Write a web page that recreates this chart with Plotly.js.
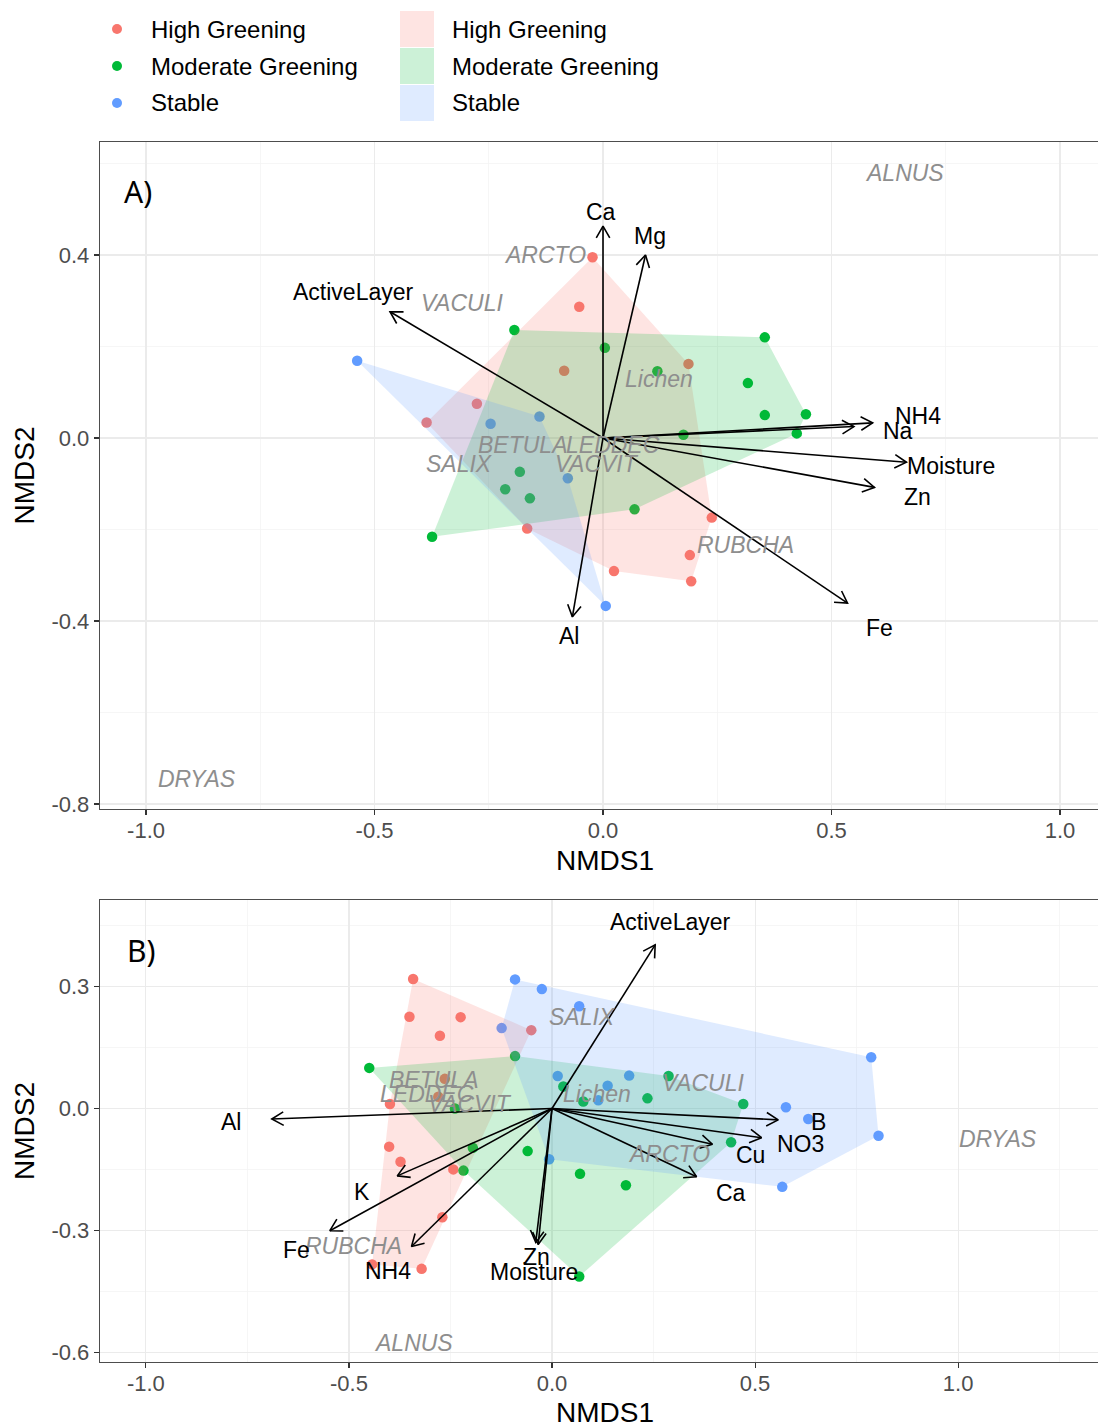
<!DOCTYPE html>
<html>
<head>
<meta charset="utf-8">
<script src="https://cdn.plot.ly/plotly-3.0.1.min.js"></script>
<style>html,body{margin:0;padding:0;overflow:hidden;background:#fff}</style>
</head>
<body>
<div id="chart"></div>
<script>
// Groups and ggplot-style hue palette
const groups = ['High Greening', 'Moderate Greening', 'Stable'];
const groupColors = ['#F8766D', '#00BA38', '#619CFF'];
const groupFills = ['rgba(248,118,109,0.2)', 'rgba(0,186,56,0.2)', 'rgba(97,156,255,0.2)'];

// ---- Panel A: site scores ----
const aHighX = [-0.023, -0.052, -0.085, 0.187, -0.276, -0.386, 0.238, -0.166, 0.190, 0.024, 0.193];
const aHighY = [0.395, 0.287, 0.147, 0.162, 0.075, 0.034, -0.174, -0.198, -0.256, -0.291, -0.313];
const aModX = [-0.194, 0.004, 0.119, 0.354, 0.317, 0.354, 0.444, 0.424, 0.176, -0.182, -0.214, -0.160, 0.069, -0.374];
const aModY = [0.236, 0.197, 0.146, 0.220, 0.120, 0.050, 0.052, 0.010, 0.007, -0.074, -0.112, -0.132, -0.156, -0.216];
const aStabX = [-0.538, -0.246, -0.139, -0.077, 0.006];
const aStabY = [0.169, 0.031, 0.047, -0.088, -0.367];

// ---- Panel A: environmental vectors ----
const aVecNames = ['Ca', 'Mg', 'ActiveLayer', 'NH4', 'Na', 'Moisture', 'Zn', 'Fe', 'Al'];
const aVecX = [0.000, 0.093, -0.466, 0.590, 0.549, 0.664, 0.594, 0.535, -0.067];
const aVecY = [0.463, 0.400, 0.276, 0.033, 0.025, -0.053, -0.108, -0.361, -0.391];
const aVecLabelX = [-0.004, 0.103, -0.545, 0.689, 0.646, 0.761, 0.689, 0.606, -0.074];
const aVecLabelY = [0.494, 0.442, 0.319, 0.048, 0.015, -0.061, -0.129, -0.415, -0.433];

// ---- Panel A: species scores ----
const aSpNames = ['ALNUS', 'ARCTO', 'VACULI', 'Lichen', 'BETULA', 'LEDDEC', 'SALIX', 'VACVIT', 'RUBCHA', 'DRYAS'];
const aSpX = [0.659, -0.127, -0.309, 0.123, -0.177, 0.022, -0.313, -0.013, 0.311, -0.888];
const aSpY = [0.579, 0.400, 0.295, 0.129, -0.015, -0.015, -0.057, -0.057, -0.234, -0.745];

// ---- Panel B: site scores ----
const bHighX = [-0.342, -0.351, -0.225, -0.276, -0.051, -0.264, -0.280, -0.399, -0.401, -0.373, -0.243, -0.270, -0.443, -0.321];
const bHighY = [0.319, 0.226, 0.225, 0.179, 0.193, 0.073, 0.029, 0.011, -0.094, -0.131, -0.150, -0.268, -0.384, -0.395];
const bModX = [-0.091, -0.450, 0.028, -0.239, 0.077, -0.195, -0.218, -0.060, 0.069, 0.182, 0.067, 0.287, 0.235, 0.471, 0.441];
const bModY = [0.129, 0.100, 0.054, 0.000, 0.017, -0.097, -0.153, -0.105, -0.161, -0.189, -0.414, 0.080, 0.025, 0.011, -0.083];
const bStabX = [-0.091, -0.025, 0.067, -0.124, 0.014, 0.137, 0.190, 0.114, -0.007, 0.576, 0.631, 0.786, 0.804, 0.567];
const bStabY = [0.318, 0.294, 0.252, 0.198, 0.080, 0.056, 0.081, 0.020, -0.125, 0.003, -0.026, 0.126, -0.067, -0.193];

// ---- Panel B: environmental vectors ----
const bVecNames = ['ActiveLayer', 'Al', 'B', 'NO3', 'Cu', 'Ca', 'K', 'Fe', 'NH4', 'Zn', 'Moisture'];
const bVecX = [0.254, -0.690, 0.557, 0.516, 0.395, 0.356, -0.381, -0.547, -0.346, -0.034, -0.040];
const bVecY = [0.403, -0.026, -0.028, -0.072, -0.088, -0.168, -0.166, -0.301, -0.340, -0.335, -0.330];
const bVecLabelX = [0.291, -0.791, 0.655, 0.613, 0.488, 0.441, -0.468, -0.628, -0.404, -0.037, -0.044];
const bVecLabelY = [0.459, -0.033, -0.033, -0.088, -0.115, -0.208, -0.206, -0.349, -0.400, -0.366, -0.403];

// ---- Panel B: species scores ----
const bSpNames = ['SALIX', 'BETULA', 'LEDDEC', 'VACVIT', 'Lichen', 'VACULI', 'ARCTO', 'RUBCHA', 'DRYAS', 'ALNUS'];
const bSpX = [0.076, -0.293, -0.308, -0.202, 0.111, 0.372, 0.288, -0.490, 1.099, -0.340];
const bSpY = [0.226, 0.070, 0.036, 0.011, 0.036, 0.063, -0.112, -0.339, -0.075, -0.578];

// Axis ticks
const xTicks = [-1, -0.5, 0, 0.5, 1];
const xTickText = ['-1.0', '-0.5', '0.0', '0.5', '1.0'];
const aYTicks = [-0.8, -0.4, 0, 0.4];
const aYTickText = ['-0.8', '-0.4', '0.0', '0.4'];
const bYTicks = [-0.6, -0.3, 0, 0.3];
const bYTickText = ['-0.6', '-0.3', '0.0', '0.3'];

// ---------------- layout geometry ----------------
const W = 1110, H = 1428;
const plotLeft = 100;
const aRangeX = [-1.1007, 1.1094], aRangeY = [-0.811, 0.647];
const bRangeX = [-1.113, 1.374], bRangeY = [-0.6244, 0.5135];
const aDomY = [1 - 809 / H, 1 - 142 / H];
const bDomY = [1 - 1362 / H, 1 - 900 / H];
const plotWidthPx = W - plotLeft;
const aPPU = plotWidthPx / (aRangeX[1] - aRangeX[0]);
const bPPU = plotWidthPx / (bRangeX[1] - bRangeX[0]);

const FONT = 'Liberation Sans, Arial, sans-serif';

// Convex hull (monotone chain), closed ring
function hull(xs, ys) {
  const p = xs.map((x, i) => [x, ys[i]]).sort((a, b) => a[0] - b[0] || a[1] - b[1]);
  const cross = (o, a, b) => (a[0] - o[0]) * (b[1] - o[1]) - (a[1] - o[1]) * (b[0] - o[0]);
  const lower = [], upper = [];
  for (const q of p) {
    while (lower.length >= 2 && cross(lower[lower.length - 2], lower[lower.length - 1], q) <= 0) lower.pop();
    lower.push(q);
  }
  for (const q of p.slice().reverse()) {
    while (upper.length >= 2 && cross(upper[upper.length - 2], upper[upper.length - 1], q) <= 0) upper.pop();
    upper.push(q);
  }
  const h = lower.slice(0, -1).concat(upper.slice(0, -1));
  h.push(h[0]);
  return { x: h.map(q => q[0]), y: h.map(q => q[1]) };
}

// Vector arrows from the origin with open heads (30 degrees, fixed pixel length)
function arrowTrace(vx, vy, ppu, xa, ya) {
  const L = 13.5 / ppu, ang = Math.PI / 6, c = Math.cos(ang), s = Math.sin(ang);
  const X = [], Y = [];
  vx.forEach((x, i) => {
    const y = vy[i], len = Math.hypot(x, y), ux = x / len, uy = y / len;
    X.push(0, x, null); Y.push(0, y, null);
    X.push(x - L * (ux * c - uy * s), x, x - L * (ux * c + uy * s), null);
    Y.push(y - L * (ux * s + uy * c), y, y - L * (-ux * s + uy * c), null);
  });
  return { x: X, y: Y, xaxis: xa, yaxis: ya, type: 'scatter', mode: 'lines',
    line: { color: '#000', width: 1.6 }, hoverinfo: 'skip', showlegend: false };
}

function pointTraces(sets, xa, ya) {
  return sets.map((s, g) => ({
    x: s[0], y: s[1], xaxis: xa, yaxis: ya, type: 'scatter', mode: 'markers', name: groups[g],
    marker: { color: groupColors[g], size: 10.5, line: { width: 0 } }, showlegend: false
  }));
}
function hullTraces(sets, xa, ya) {
  return sets.map((s, g) => {
    const h = hull(s[0], s[1]);
    return { x: h.x, y: h.y, xaxis: xa, yaxis: ya, type: 'scatter', mode: 'lines', fill: 'toself',
      fillcolor: groupFills[g], line: { width: 0, color: 'rgba(0,0,0,0)' }, hoverinfo: 'skip',
      name: groups[g], showlegend: false };
  });
}

const aSets = [[aHighX, aHighY], [aModX, aModY], [aStabX, aStabY]];
const bSets = [[bHighX, bHighY], [bModX, bModY], [bStabX, bStabY]];

const traces = [].concat(
  pointTraces(aSets, 'x', 'y'), hullTraces(aSets, 'x', 'y'), [arrowTrace(aVecX, aVecY, aPPU, 'x', 'y')],
  pointTraces(bSets, 'x2', 'y2'), hullTraces(bSets, 'x2', 'y2'), [arrowTrace(bVecX, bVecY, bPPU, 'x2', 'y2')]
);

// Text labels
const annotations = [];
function addLabels(names, xs, ys, xr, yr, color, italic) {
  names.forEach((n, i) => annotations.push({
    x: xs[i], y: ys[i], xref: xr, yref: yr, text: italic ? '<i>' + n + '</i>' : n, showarrow: false,
    xanchor: 'center', yanchor: 'middle', font: { family: FONT, size: 23, color: color }
  }));
}
addLabels(aSpNames, aSpX, aSpY, 'x', 'y', '#8E8E8E', true);
addLabels(aVecNames, aVecLabelX, aVecLabelY, 'x', 'y', '#000', false);
addLabels(bSpNames, bSpX, bSpY, 'x2', 'y2', '#8E8E8E', true);
addLabels(bVecNames, bVecLabelX, bVecLabelY, 'x2', 'y2', '#000', false);

// Panel tags
[['A)', 138, 192], ['B)', 141, 950]].forEach(t => annotations.push({
  x: t[1] / W, y: 1 - t[2] / H, xref: 'paper', yref: 'paper', text: t[0], showarrow: false,
  xanchor: 'center', yanchor: 'middle', font: { family: 'Noto Sans, sans-serif', size: 30, color: '#000' }
}));

// Legend: point keys and hull-fill keys
const shapes = [];
groups.forEach((g, i) => {
  const cy = 29 + i * 37;
  shapes.push({ type: 'circle', xref: 'paper', yref: 'paper',
    x0: (117 - 5) / W, x1: (117 + 5) / W, y0: 1 - (cy + 5) / H, y1: 1 - (cy - 5) / H,
    fillcolor: groupColors[i], line: { width: 0 } });
  annotations.push({ x: 149 / W, y: 1 - cy / H, xref: 'paper', yref: 'paper', text: g, showarrow: false,
    xanchor: 'left', yanchor: 'middle', font: { family: FONT, size: 24, color: '#000' } });
  shapes.push({ type: 'rect', xref: 'paper', yref: 'paper',
    x0: 400 / W, x1: 434 / W, y0: 1 - (cy + 18) / H, y1: 1 - (cy - 18) / H,
    fillcolor: groupFills[i], line: { width: 0 } });
  annotations.push({ x: 450 / W, y: 1 - cy / H, xref: 'paper', yref: 'paper', text: g, showarrow: false,
    xanchor: 'left', yanchor: 'middle', font: { family: FONT, size: 24, color: '#000' } });
});

function xAxis(range, anchor, minorVals) {
  return {
    domain: [plotLeft / W, 1], range: range, anchor: anchor, fixedrange: true,
    tickmode: 'array', tickvals: xTicks, ticktext: xTickText,
    showgrid: true, gridcolor: '#EBEBEB', gridwidth: 1.1, zeroline: false,
    minor: { tickmode: 'array', tickvals: minorVals, showgrid: true, gridcolor: '#F4F4F4', gridwidth: 0.8, ticks: '' },
    showline: true, mirror: true, linecolor: '#4D4D4D', linewidth: 1.3,
    ticks: 'outside', ticklen: 5, tickcolor: '#333', tickwidth: 1.1, ticklabelstandoff: -4,
    tickfont: { family: FONT, size: 22, color: '#4D4D4D' },
    title: { text: 'NMDS1', font: { family: FONT, size: 28, color: '#000' }, standoff: 8 }
  };
}
function yAxis(range, dom, anchor, tv, tt, minorVals) {
  return {
    domain: dom, range: range, anchor: anchor, fixedrange: true,
    tickmode: 'array', tickvals: tv, ticktext: tt,
    showgrid: true, gridcolor: '#EBEBEB', gridwidth: 1.1, zeroline: false,
    minor: { tickmode: 'array', tickvals: minorVals, showgrid: true, gridcolor: '#F4F4F4', gridwidth: 0.8, ticks: '' },
    showline: true, mirror: true, linecolor: '#4D4D4D', linewidth: 1.3,
    ticks: 'outside', ticklen: 5, tickcolor: '#333', tickwidth: 1.1,
    tickfont: { family: FONT, size: 22, color: '#4D4D4D' },
    title: { text: 'NMDS2', font: { family: FONT, size: 28, color: '#000' }, standoff: 8 }
  };
}

const layout = {
  width: W, height: H, margin: { l: 0, r: 0, t: 0, b: 0 },
  paper_bgcolor: '#fff', plot_bgcolor: '#fff', showlegend: false,
  xaxis: xAxis(aRangeX, 'y', [-0.75, -0.25, 0.25, 0.75]),
  yaxis: yAxis(aRangeY, aDomY, 'x', aYTicks, aYTickText, [-0.6, -0.2, 0.2, 0.6]),
  xaxis2: xAxis(bRangeX, 'y2', [-0.75, -0.25, 0.25, 0.75, 1.25]),
  yaxis2: yAxis(bRangeY, bDomY, 'x2', bYTicks, bYTickText, [-0.45, -0.15, 0.15, 0.45]),
  annotations: annotations, shapes: shapes
};

Plotly.newPlot('chart', traces, layout, { staticPlot: true, displayModeBar: false });
</script>
</body>
</html>
